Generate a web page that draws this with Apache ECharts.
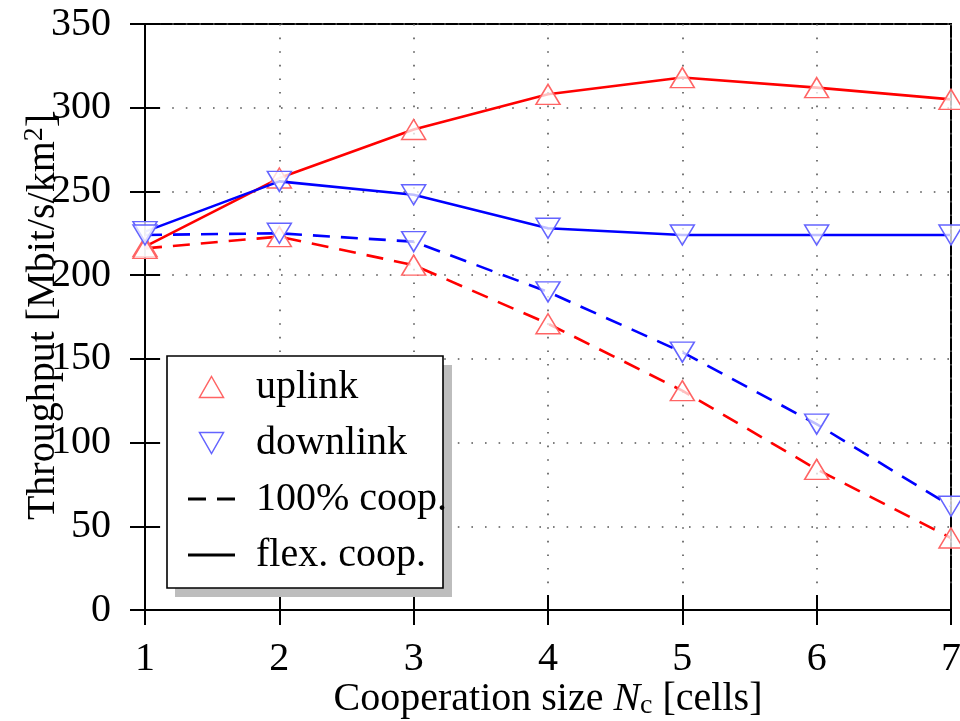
<!DOCTYPE html>
<html>
<head>
<meta charset="utf-8">
<script src="https://cdn.jsdelivr.net/npm/echarts@6/dist/echarts.min.js"></script>
<style>html,body{margin:0;padding:0;background:#fff}#c{width:960px;height:721px}</style>
</head>
<body>
<div id="c"></div>
<script>
// ---- data ----
const xValues = [1, 2, 3, 4, 5, 6, 7];
const uplinkFlex = [217, 258, 287, 308, 318, 312, 305];
const downlinkFlex = [226, 256, 248, 228, 224, 224, 224];
const uplinkFull = [216, 223, 206, 171, 131, 84, 43];
const downlinkFull = [224, 225, 220, 190, 154, 111, 62];
const legendNames = ['uplink', 'downlink', '100% coop.', 'flex. coop.'];
const yMin = 0, yMax = 350, yStep = 50;
const xMin = 1, xMax = 7, xStep = 1;

const FONT = 'Liberation Serif';
const FS = 40;
const RED = '#ff0000', BLUE = '#0000ff';
const RED_MK = '#ff6464', BLUE_MK = '#6464ff';
const TRI_UP = 'path://M12,0L24,21L0,21Z';
const TRI_DOWN = 'path://M0,0L24,0L12,21Z';

function pairs(ys) { return xValues.map((x, i) => [x, ys[i]]); }

function lineSeries(name, ys, color, mkColor, dashed, symbol, z) {
  return {
    name: name, type: 'line', data: pairs(ys),
    symbol: symbol, symbolSize: [24, 20],
    showSymbol: true,
    lineStyle: { color: color, width: 2.6, type: dashed ? [17, 11] : 'solid' },
    itemStyle: { color: 'rgba(255,255,255,0.75)', borderColor: mkColor, borderWidth: 1.5 },
    z: z, silent: true, animation: false
  };
}

const chart = echarts.init(document.getElementById('c'), null, { renderer: 'canvas' });

const axisLabelStyle = { fontFamily: FONT, fontSize: FS, color: '#000' };

const option = {
  animation: false,
  backgroundColor: '#fff',
  grid: { left: 145, right: 9, top: 24, bottom: 111, show: true, borderColor: '#000', borderWidth: 2, backgroundColor: 'transparent', containLabel: false, outerBoundsMode: 'none' },
  xAxis: [{
    type: 'value', min: xMin, max: xMax, interval: xStep,
    position: 'bottom',
    axisLine: { show: true, lineStyle: { color: '#000', width: 2 } },
    axisTick: { show: true, length: 15, lineStyle: { color: '#000', width: 2 } },
    axisLabel: Object.assign({ margin: 29 }, axisLabelStyle),
    splitLine: { show: true, lineStyle: { color: '#555', width: 1.6, type: [1.6, 12] } },
    name: 'Cooperation size {it|N}{sub|c} [cells]',
    nameLocation: 'middle', nameGap: 68, nameMoveOverlap: false,
    nameTextStyle: {
      fontFamily: FONT, fontSize: FS, color: '#000',
      rich: {
        it: { fontFamily: FONT, fontSize: FS, fontStyle: 'italic', color: '#000' },
        sub: { fontFamily: FONT, fontSize: 28, color: '#000', padding: [14, 0, 0, 0] }
      }
    }
  }, {
    type: 'value', min: xMin, max: xMax, interval: xStep,
    position: 'bottom',
    axisLine: { show: false },
    axisTick: { show: true, inside: true, length: 15, lineStyle: { color: '#000', width: 2 } },
    axisLabel: { show: false },
    splitLine: { show: false }
  }],
  yAxis: [{
    type: 'value', min: yMin, max: yMax, interval: yStep,
    position: 'left',
    axisLine: { show: true, lineStyle: { color: '#000', width: 2 } },
    axisTick: { show: true, length: 15, lineStyle: { color: '#000', width: 2 } },
    axisLabel: Object.assign({ margin: 34 }, axisLabelStyle),
    splitLine: { show: true, lineStyle: { color: '#555', width: 1.6, type: [1.6, 12] } },
    name: 'Throughput [Mbit/s/km{sup|2}]',
    nameLocation: 'middle', nameGap: 80, nameMoveOverlap: false,
    nameTextStyle: {
      fontFamily: FONT, fontSize: FS, color: '#000',
      rich: {
        sup: { fontFamily: FONT, fontSize: 28, color: '#000', padding: [0, 0, 16, 0] }
      }
    }
  }, {
    type: 'value', min: yMin, max: yMax, interval: yStep,
    position: 'left',
    axisLine: { show: false },
    axisTick: { show: true, inside: true, length: 15, lineStyle: { color: '#000', width: 2 } },
    axisLabel: { show: false },
    splitLine: { show: false }
  }],
  graphic: [
    { type: 'rect', z: 100, shape: { x: 175, y: 365, width: 277, height: 232 }, style: { fill: '#bdbdbd' } },
    { type: 'rect', z: 101, shape: { x: 167, y: 356, width: 276, height: 232 }, style: { fill: '#fff', stroke: '#000', lineWidth: 1.6 } }
  ],
  legend: {
    show: true, orient: 'vertical', left: 188, top: 367, z: 110,
    itemWidth: 47, itemHeight: 21, itemGap: 16, padding: 0,
    selectedMode: false, symbolKeepAspect: true,
    textStyle: { fontFamily: FONT, fontSize: FS, color: '#000', lineHeight: 40, padding: [0, 0, 0, 16] },
    data: [
      { name: legendNames[0], icon: TRI_UP, itemStyle: { color: '#fff', borderColor: RED_MK, borderWidth: 1.5 } },
      { name: legendNames[1], icon: TRI_DOWN, itemStyle: { color: '#fff', borderColor: BLUE_MK, borderWidth: 1.5 } },
      { name: legendNames[2], icon: 'path://M0,0H18V3H0Z M29,0H47V3H29Z', itemStyle: { color: '#000', borderWidth: 0 } },
      { name: legendNames[3], icon: 'path://M0,0H47V3H0Z', itemStyle: { color: '#000', borderWidth: 0 } }
    ]
  },
  series: [
    lineSeries('uplink flex', uplinkFlex, RED, RED_MK, false, TRI_UP, 3),
    lineSeries('uplink full', uplinkFull, RED, RED_MK, true, TRI_UP, 3),
    lineSeries('downlink flex', downlinkFlex, BLUE, BLUE_MK, false, TRI_DOWN, 4),
    lineSeries('downlink full', downlinkFull, BLUE, BLUE_MK, true, TRI_DOWN, 4),
    { name: legendNames[0], type: 'line', data: [], symbol: TRI_UP, itemStyle: { color: '#fff', borderColor: RED_MK }, lineStyle: { width: 0 } },
    { name: legendNames[1], type: 'line', data: [], symbol: TRI_DOWN, itemStyle: { color: '#fff', borderColor: BLUE_MK }, lineStyle: { width: 0 } },
    { name: legendNames[2], type: 'line', data: [], symbol: 'none', itemStyle: { color: '#000' }, lineStyle: { color: '#000', type: 'dashed' } },
    { name: legendNames[3], type: 'line', data: [], symbol: 'none', itemStyle: { color: '#000' }, lineStyle: { color: '#000' } }
  ]
};
chart.setOption(option);
</script>
</body>
</html>
